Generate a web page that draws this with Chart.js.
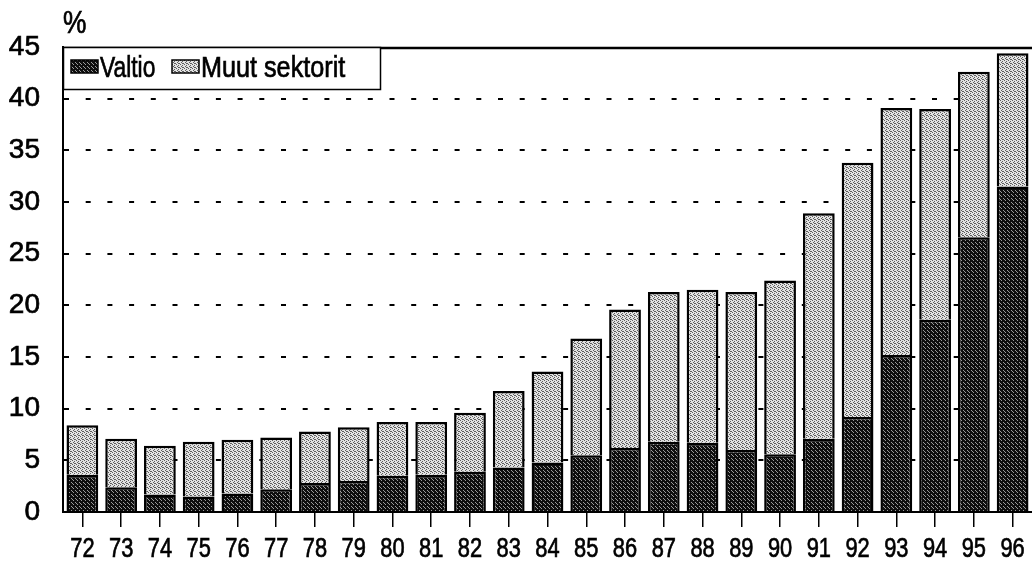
<!DOCTYPE html>
<html>
<head>
<meta charset="utf-8">
<script src="https://cdn.jsdelivr.net/npm/chart.js@4/dist/chart.umd.min.js"></script>
<style>
html, body { margin: 0; padding: 0; background: #fff; }
#wrap { width: 1032px; height: 565px; position: relative; }
</style>
</head>
<body>
<div id="wrap"><canvas id="chart" width="1032" height="565"></canvas></div>
<script>
// data (%)
const years = ['72','73','74','75','76','77','78','79','80','81','82','83','84','85','86','87','88','89','90','91','92','93','94','95','96'];
const valtio = [3.6, 2.4, 1.7, 1.5, 1.8, 2.2, 2.8, 3.0, 3.5, 3.6, 3.9, 4.3, 4.8, 5.5, 6.2, 6.8, 6.7, 6.0, 5.6, 7.1, 9.2, 15.2, 18.6, 26.6, 31.5];
const muut = [4.8, 4.7, 4.7, 5.3, 5.2, 5.0, 5.0, 5.2, 5.2, 5.1, 5.7, 7.4, 8.8, 11.3, 13.4, 14.5, 14.8, 15.3, 16.8, 21.8, 24.6, 23.9, 20.4, 16.0, 12.9];
const seriesNames = ['Valtio', 'Muut sektorit'];
const yMax = 45;
const yStep = 5;

const sans = "'Liberation Sans', Arial, sans-serif";

// small halftone-like tiles so the bars look printed
function makePattern(base, dot, dots) {
    const c = document.createElement('canvas');
    c.width = 4; c.height = 4;
    const g = c.getContext('2d');
    g.fillStyle = base;
    g.fillRect(0, 0, 4, 4);
    g.fillStyle = dot;
    dots.forEach(d => g.fillRect(d[0], d[1], 1, 1));
    return g.createPattern(c, 'repeat');
}
const ctx = document.getElementById('chart').getContext('2d');
const darkFill = makePattern('#0e0e0e', '#9a9a9a', [[1,0],[3,2],[0,3]]);
const lightFill = makePattern('#e2e2e2', '#5e5e5e', [[0,0],[2,1],[1,2],[3,3],[2,3]]);

// the original uses a condensed face; squeeze Liberation Sans sideways
// and give it a hair of stroke so it looks like the printed scan
function narrowText(c, text, x, y, size, squeeze, align) {
    c.save();
    c.font = size + 'px ' + sans;
    c.textAlign = align;
    c.textBaseline = 'alphabetic';
    c.translate(x, y);
    c.scale(squeeze, 1);
    c.fillStyle = '#000';
    c.strokeStyle = '#000';
    c.lineWidth = 0.7;
    c.fillText(text, 0, 0);
    c.strokeText(text, 0, 0);
    c.restore();
}

// top frame line, % label, x labels and boxed legend
const extras = {
    id: 'extras',
    afterDraw(chart) {
        const a = chart.chartArea;
        const c = chart.ctx;
        const xs = chart.scales.x;
        c.save();
        c.strokeStyle = '#000';
        c.lineWidth = 2.5;
        c.beginPath();
        c.moveTo(a.left, a.top + 1);
        c.lineTo(a.right, a.top + 1);
        c.stroke();

        narrowText(c, '%', 63, 33, 31, 0.85, 'left');

        years.forEach((y, i) => {
            narrowText(c, y, xs.getPixelForValue(i), 557, 28, 0.78, 'center');
        });

        // legend box
        c.fillStyle = '#fff';
        c.fillRect(a.left, a.top, 317, 42);
        c.lineWidth = 1.5;
        c.strokeStyle = '#000';
        c.strokeRect(a.left + 0.5, a.top + 0.5, 317, 42);

        const fills = [darkFill, lightFill];
        const swatchX = [a.left + 8, a.left + 109];
        for (let i = 0; i < seriesNames.length; i++) {
            c.fillStyle = fills[i];
            c.fillRect(swatchX[i], a.top + 13, 27, 13);
            c.lineWidth = 1.5;
            c.strokeStyle = '#000';
            c.strokeRect(swatchX[i], a.top + 13, 27, 13);
            narrowText(c, seriesNames[i], swatchX[i] + 29, a.top + 30, 30, i === 0 ? 0.76 : 0.84, 'left');
        }
        c.restore();
    }
};

const chart = new Chart(ctx, {
    type: 'bar',
    data: {
        labels: years,
        datasets: [{
            label: seriesNames[0],
            data: valtio,
            backgroundColor: darkFill,
            borderColor: '#000',
            borderWidth: 2.5
        }, {
            label: seriesNames[1],
            data: muut,
            backgroundColor: lightFill,
            borderColor: '#000',
            borderWidth: 2.5
        }]
    },
    options: {
        responsive: false,
        devicePixelRatio: 1,
        animation: false,
        layout: { padding: { top: 47, left: 0, right: 0, bottom: 0 } },
        datasets: { bar: { categoryPercentage: 1, barPercentage: 0.82 } },
        plugins: {
            legend: { display: false },
            tooltip: { enabled: false }
        },
        scales: {
            x: {
                stacked: true,
                afterFit: (s) => { s.height = 53; },
                grid: { offset: false, drawOnChartArea: false, drawTicks: true, tickLength: 15, color: '#000', lineWidth: 1.5 },
                border: { display: true, color: '#000', width: 2 },
                ticks: { display: false, autoSkip: false }
            },
            y: {
                stacked: true,
                min: 0,
                max: yMax,
                afterFit: (s) => { s.width = 63; },
                grid: {
                    drawTicks: false,
                    lineWidth: 2,
                    color: (c) => (c.tick && (c.tick.value === 0 || c.tick.value === yMax)) ? 'rgba(0,0,0,0)' : '#000'
                },
                border: { display: true, color: '#000', width: 2, dash: [5, 16.7] },
                ticks: {
                    stepSize: yStep, color: '#000', font: { family: sans, size: 28 }, padding: 23,
                    textStrokeColor: '#000', textStrokeWidth: 0.7
                }
            }
        }
    },
    plugins: [extras]
});
</script>
</body>
</html>
